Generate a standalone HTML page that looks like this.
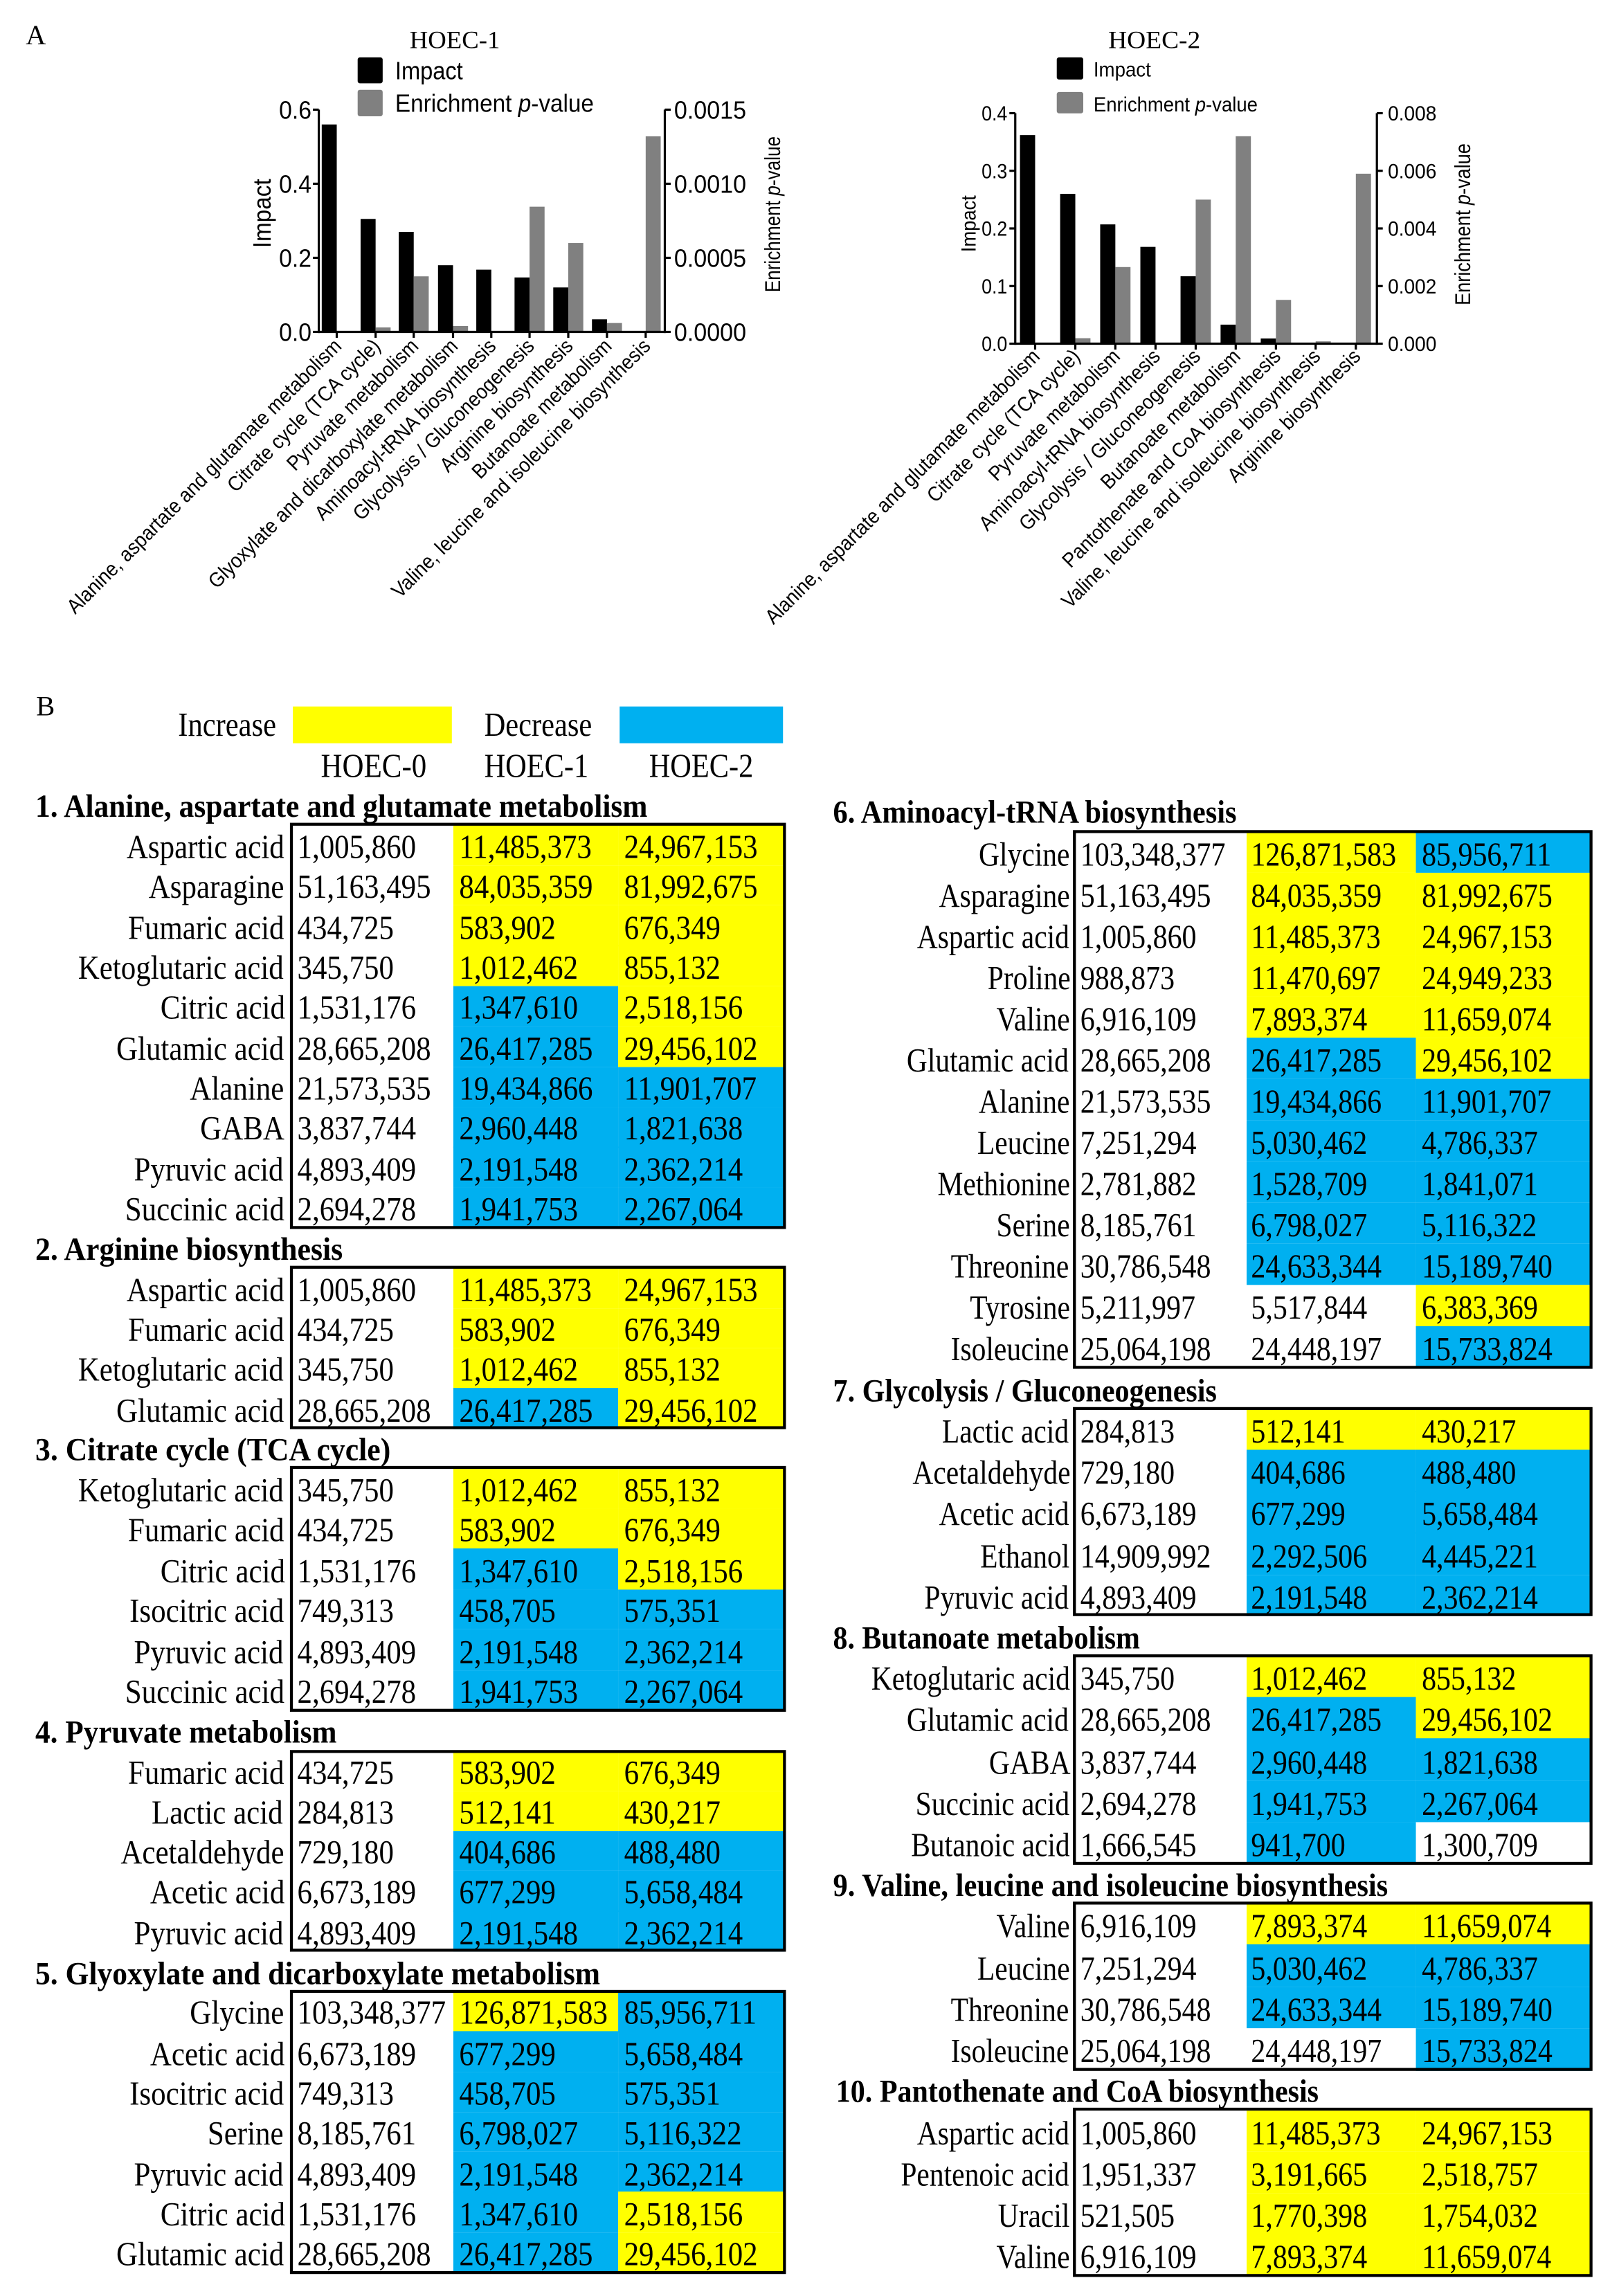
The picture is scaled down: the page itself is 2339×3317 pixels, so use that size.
<!DOCTYPE html>
<html><head><meta charset="utf-8">
<style>
html,body{margin:0;padding:0;background:#fff;}
body{width:2339px;height:3316px;overflow:hidden;position:relative;}
#wrap{position:absolute;left:0;top:0;width:1100px;height:1560px;transform:scale(2.12636);transform-origin:0 0;}
.t{position:absolute;white-space:nowrap;transform-origin:0 0;color:#000;}
.cell{position:absolute;}
svg text{fill:#000;}
</style></head>
<body><div id="wrap">
<svg id="charts" width="1100" height="460" style="position:absolute;left:0;top:0" font-family="Liberation Sans, Arial, sans-serif"></svg>
</div>
<script>
(function(){
var NS="http://www.w3.org/2000/svg";
var svg=document.getElementById('charts');
function el(tag,attrs,txt){var e=document.createElementNS(NS,tag);for(var k in attrs)e.setAttribute(k,attrs[k]);if(txt!==undefined)e.textContent=txt;svg.appendChild(e);return e;}
function line(x1,y1,x2,y2,w){el('line',{x1:x1,y1:y1,x2:x2,y2:y2,stroke:'#000','stroke-width':w||1.5});}
function stext(x,y,s,o){var a={x:x,y:y,'font-size':o.size||14};if(o.len){a.textLength=o.len;a.lengthAdjust='spacingAndGlyphs';}
 if(o.anchor)a['text-anchor']=o.anchor;if(o.rot!==undefined)a.transform='rotate('+o.rot+' '+x+' '+y+')';if(o.family)a['font-family']=o.family;
 var t=el('text',a);
 if(o.pv){t.appendChild(document.createTextNode('Enrichment '));var ts=document.createElementNS(NS,'tspan');ts.setAttribute('font-style','italic');ts.textContent='p';t.appendChild(ts);t.appendChild(document.createTextNode('-value'));}
 else t.textContent=s;return t;}

function chart(c){
 var L=c.L,R=c.R,T=c.T,B=c.B,H=B-T;
 for(var i=0;i<c.ticks.length;i++){
  var tx=c.ticks[i];
  var ih=c.imp[i]/c.imax*H; if(ih>0) el('rect',{x:tx-c.bw,y:B-ih,width:c.bw,height:ih,fill:'#000'});
  var ph=c.pv[i]/c.pmax*H; if(ph>0) el('rect',{x:tx,y:B-ph,width:c.bw,height:ph,fill:'#808080'});
 }
 line(L,T,L,B+0.75);line(R,T,R,B+0.75);line(L,B,R,B);
 for(var i=0;i<c.ticks.length;i++) line(c.ticks[i],B,c.ticks[i],B+4);
 for(var j=0;j<c.lt.length;j++){var y=B-j/(c.lt.length-1)*H;line(L-4,y,L,y);line(R,y,R+4,y);
  stext(c.llx,y+c.fs*0.36,c.lt[j],{size:c.fs,anchor:'end',len:c.llen});
  stext(c.rlx,y+c.fs*0.36,c.rt[j],{size:c.fs,len:c.rlen});}
 stext(c.title[0],c.title[1],c.title[2],{size:17,anchor:'middle',len:c.title[3],family:'Liberation Serif, serif'});
 el('rect',{x:c.lg.x,y:c.lg.y1,width:c.lg.w,height:c.lg.h1,fill:'#000',rx:1.5});
 el('rect',{x:c.lg.x,y:c.lg.y2,width:c.lg.w,height:c.lg.h2,fill:'#808080',rx:1.5});
 stext(c.lg.tx,c.lg.b1,'Impact',{size:c.lg.fs,len:c.lg.l1});
 stext(c.lg.tx,c.lg.b2,'',{size:c.lg.fs,len:c.lg.l2,pv:1});
 stext(c.yl[0],c.yl[1],'Impact',{size:c.yl[3],anchor:'middle',rot:-90,len:c.yl[2]});
 stext(c.yr[0],c.yr[1],'',{size:c.yr[3],anchor:'middle',rot:-90,len:c.yr[2],pv:1});
 var ts=[],f=1;
 for(var i=0;i<c.names.length;i++){
  var x=c.ticks[i]+4,y=c.ly;
  var t=stext(x,y,c.names[i],{size:14,anchor:'end',rot:-45});
  ts.push(t);
  if(i===0) f=c.alen/t.getComputedTextLength();
 }
 for(var i=0;i<ts.length;i++){var n=ts[i].getComputedTextLength();ts[i].setAttribute('textLength',n*f);ts[i].setAttribute('lengthAdjust','spacingAndGlyphs');}
}
chart({L:216.6,R:451.7,T:74.5,B:225.5,bw:10.2,alen:257,
 ticks:[228.8,255.2,281.1,307.8,333.8,359.8,386.1,412.4,438.7],
 imp:[0.56,0.305,0.27,0.18,0.168,0.147,0.12,0.034,0],imax:0.6,
 pv:[0,0.00003,0.000375,0.00004,0,0.000845,0.0006,0.00006,0.00132],pmax:0.0015,
 lt:['0.0','0.2','0.4','0.6'],rt:['0.0000','0.0005','0.0010','0.0015'],fs:17,llx:211.6,llen:22,rlx:458,rlen:49,
 title:[309,32.6,'HOEC-1',61.4],
 lg:{x:243,y1:39,h1:17.6,y2:61,h2:18,w:17,tx:268.5,b1:53.8,b2:76,fs:17,l1:46,l2:135},
 yl:[184,145,47,17],yr:[530,145.6,106,15],ly:236,
 names:["Alanine, aspartate and glutamate metabolism","Citrate cycle (TCA cycle)","Pyruvate metabolism","Glyoxylate and dicarboxylate metabolism","Aminoacyl-tRNA biosynthesis","Glycolysis / Gluconeogenesis","Arginine biosynthesis","Butanoate metabolism","Valine, leucine and isoleucine biosynthesis"]});
chart({L:689.8,R:935.5,T:76.9,B:233.5,bw:10.3,alen:257,
 ticks:[703.3,730.6,757.8,785.1,812.4,839.6,866.9,893.9,921.2],
 imp:[0.362,0.26,0.207,0.168,0.117,0.033,0.009,0,0],imax:0.4,
 pv:[0,0.00019,0.00266,0,0.005,0.0072,0.00152,0.00008,0.0059],pmax:0.008,
 lt:['0.0','0.1','0.2','0.3','0.4'],rt:['0.000','0.002','0.004','0.006','0.008'],fs:14,llx:684.4,llen:17.5,rlx:943,rlen:33,
 title:[784.3,32.8,'HOEC-2',62.6],
 lg:{x:718,y1:39,h1:15,y2:62.5,h2:14.5,w:18,tx:743,b1:52,b2:75.6,fs:14,l1:39,l2:111.5},
 yl:[662.8,152,38.6,14],yr:[999,152.4,110,15],ly:243,
 names:["Alanine, aspartate and glutamate metabolism","Citrate cycle (TCA cycle)","Pyruvate metabolism","Aminoacyl-tRNA biosynthesis","Glycolysis / Gluconeogenesis","Butanoate metabolism","Pantothenate and CoA biosynthesis","Valine, leucine and isoleucine biosynthesis","Arginine biosynthesis"]});

var wrap=document.getElementById('wrap');
function T(x,y,s,o){
 o=o||{};var d=document.createElement('div');d.className='t';
 var size=o.size||23,fam=o.family||'"Liberation Serif", serif';
 d.style.fontFamily=fam;d.style.fontSize=size+'px';d.style.lineHeight=size+'px';
 if(o.bold)d.style.fontWeight='bold';
 d.textContent=s;wrap.appendChild(d);
 var w=d.offsetWidth;var sc=o.width?o.width/w:(o.scale||1);
 var left=o.anchor==='end'?x-w*sc:x;
 var asc=fam.indexOf('Sans')>=0?0.8465:0.8375;
 d.style.left=left+'px';d.style.top=(y-asc*size)+'px';
 d.style.transform='scaleX('+sc+')';
 return d;}
function rect(x,y,w,h,c){var d=document.createElement('div');d.className='cell';d.style.left=x+'px';d.style.top=y+'px';d.style.width=w+'px';d.style.height=h+'px';d.style.background=c;wrap.appendChild(d);}
function box(x,y,w,h){var b=2.2;var d=document.createElement('div');d.className='cell';d.style.left=(x-b/2)+'px';d.style.top=(y-b/2)+'px';d.style.width=(w-b)+'px';d.style.height=(h-b)+'px';d.style.border=b+'px solid #000';wrap.appendChild(d);}

var probe=T(0,-100,'1,005,860');var numW=probe.offsetWidth;probe.remove();
var probe2=T(0,-100,'Ketoglutaric acid');var labW=probe2.offsetWidth;probe2.remove();
var sNumL=80.7/numW,sNumR=78.9/numW,sLabL=139.7/labW,sLabR=135/labW;

var Y='#ffff00',Bl='#00b0f0';
T(17.5,31,'A',{size:19});
T(24.6,487,'B',{size:19});
T(121,500.4,'Increase',{width:67});
rect(199,480,108,25,Y);
T(329,500.4,'Decrease',{width:73});
rect(421,480,111,25,Bl);
T(218,528,'HOEC-0',{width:72});
T(329,528,'HOEC-1',{width:71});
T(441,528,'HOEC-2',{width:71});

function table(t,g){
 var rh=(t.bottom-t.top)/t.rows.length;
 T(g.tx,t.top-4.8,t.title,{bold:1,size:22,width:t.tw});
 for(var i=0;i<t.rows.length;i++){
  var r=t.rows[i],y=t.top+i*rh;
  var cm={y:Y,b:Bl,w:null};
  if(cm[r[4]])rect(g.c2,y,g.c3-g.c2,rh+0.3,cm[r[4]]);
  if(cm[r[5]])rect(g.c3,y,g.x1-g.c3,rh+0.3,cm[r[5]]);
  var bl=y+rh*0.83;
  T(g.lab,bl,r[0],{anchor:'end',scale:g.sl});
  T(g.x0+g.off,bl,r[1],{scale:g.sn});
  T(g.c2+g.off,bl,r[2],{scale:g.sn});
  T(g.c3+g.off,bl,r[3],{scale:g.sn});
 }
 box(g.x0,t.top,g.x1-g.x0,t.bottom-t.top);
}
var GL={x0:197.6,c2:308.2,c3:420.1,x1:532.8,lab:193,off:4.2,tx:23.9,sl:sLabL,sn:sNumL};
var GR={x0:730.2,c2:846.6,c3:962.3,x1:1081.5,lab:726.7,off:3.6,tx:566,sl:sLabR,sn:sNumR};
var Asp=['Aspartic acid','1,005,860','11,485,373','24,967,153','y','y'],
Asn=['Asparagine','51,163,495','84,035,359','81,992,675','y','y'],
Fum=['Fumaric acid','434,725','583,902','676,349','y','y'],
Keto=['Ketoglutaric acid','345,750','1,012,462','855,132','y','y'],
Cit=['Citric acid','1,531,176','1,347,610','2,518,156','b','y'],
Glu=['Glutamic acid','28,665,208','26,417,285','29,456,102','b','y'],
Ala=['Alanine','21,573,535','19,434,866','11,901,707','b','b'],
GABA=['GABA','3,837,744','2,960,448','1,821,638','b','b'],
Pyr=['Pyruvic acid','4,893,409','2,191,548','2,362,214','b','b'],
Suc=['Succinic acid','2,694,278','1,941,753','2,267,064','b','b'],
Iso=['Isocitric acid','749,313','458,705','575,351','b','b'],
Lac=['Lactic acid','284,813','512,141','430,217','y','y'],
Ace=['Acetaldehyde','729,180','404,686','488,480','b','b'],
Acet=['Acetic acid','6,673,189','677,299','5,658,484','b','b'],
Gly=['Glycine','103,348,377','126,871,583','85,956,711','y','b'],
Ser=['Serine','8,185,761','6,798,027','5,116,322','b','b'],
Pro=['Proline','988,873','11,470,697','24,949,233','y','y'],
Val=['Valine','6,916,109','7,893,374','11,659,074','y','y'],
Leu=['Leucine','7,251,294','5,030,462','4,786,337','b','b'],
Met=['Methionine','2,781,882','1,528,709','1,841,071','b','b'],
Thr=['Threonine','30,786,548','24,633,344','15,189,740','b','b'],
Tyr=['Tyrosine','5,211,997','5,517,844','6,383,369','w','y'],
Ile=['Isoleucine','25,064,198','24,448,197','15,733,824','w','b'],
Eth=['Ethanol','14,909,992','2,292,506','4,445,221','b','b'],
But=['Butanoic acid','1,666,545','941,700','1,300,709','b','w'],
Pent=['Pentenoic acid','1,951,337','3,191,665','2,518,757','y','y'],
Ura=['Uracil','521,505','1,770,398','1,754,032','y','y'];

table({title:'1. Alanine, aspartate and glutamate metabolism',tw:416,top:560.4,bottom:834,rows:[Asp,Asn,Fum,Keto,Cit,Glu,Ala,GABA,Pyr,Suc]},GL);
table({title:'2. Arginine biosynthesis',tw:208.8,top:861.2,bottom:970.8,rows:[Asp,Fum,Keto,Glu]},GL);
table({title:'3. Citrate cycle (TCA cycle)',tw:241,top:997.5,bottom:1162,rows:[Keto,Fum,Cit,Iso,Pyr,Suc]},GL);
table({title:'4. Pyruvate metabolism',tw:205,top:1189.6,bottom:1325.5,rows:[Fum,Lac,Ace,Acet,Pyr]},GL);
table({title:'5. Glyoxylate and dicarboxylate metabolism',tw:383.3,top:1353,bottom:1544,rows:[Gly,Acet,Iso,Ser,Pyr,Cit,Glu]},GL);

table({title:'6. Aminoacyl-tRNA biosynthesis',tw:274.6,top:564.6,bottom:929.3,rows:[Gly,Asn,Asp,Pro,Val,Glu,Ala,Leu,Met,Ser,Thr,Tyr,Ile]},GR);
table({title:'7. Glycolysis / Gluconeogenesis',tw:261,top:957,bottom:1097.7,rows:[Lac,Ace,Acet,Eth,Pyr]},GR);
table({title:'8. Butanoate metabolism',tw:208.7,top:1125,bottom:1266,rows:[Keto,Glu,GABA,Suc,But]},GR);
table({title:'9. Valine, leucine and isoleucine biosynthesis',tw:377,top:1292.9,bottom:1406.5,rows:[Val,Leu,Thr,Ile]},GR);
table({title:'10. Pantothenate and CoA biosynthesis',tw:328,top:1433.5,bottom:1546.5,rows:[Asp,Pent,Ura,Val]},{x0:730.2,c2:846.6,c3:962.3,x1:1081.5,lab:726.7,off:3.6,tx:567.8,sl:sLabR,sn:sNumR});
})();
</script>
</body></html>
